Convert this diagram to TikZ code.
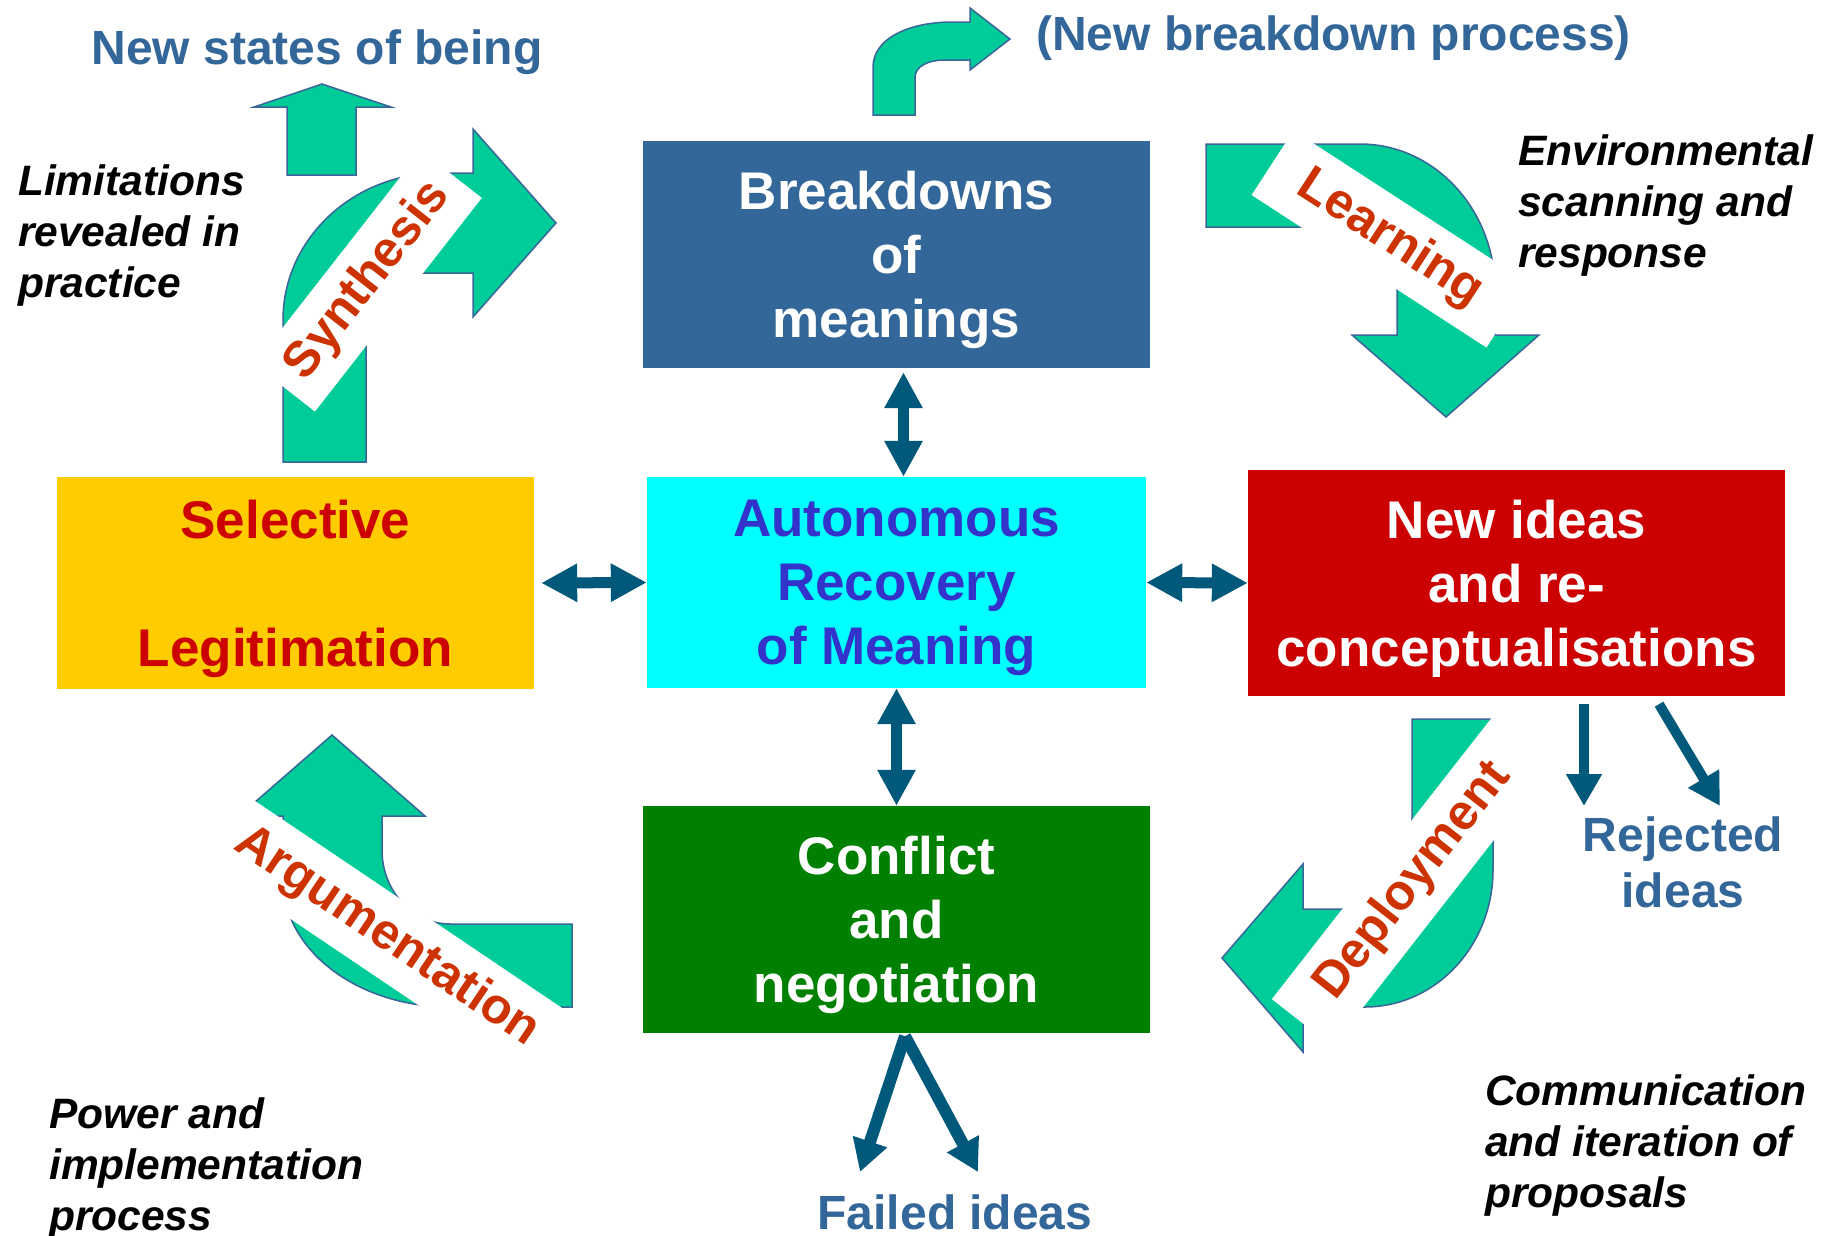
\documentclass[tikz,border=0pt]{standalone}
\usepackage{fontspec}
\setmainfont{Liberation Sans}
\usetikzlibrary{arrows.meta, positioning, calc}
\definecolor{boxblue}{HTML}{336699}
\definecolor{seafoam}{HTML}{00CC99}
\definecolor{rimblue}{HTML}{3A6599}
\definecolor{inkteal}{HTML}{00587A}
\definecolor{rust}{HTML}{CC3300}
\definecolor{crimson}{HTML}{CC0000}
\definecolor{amber}{HTML}{FFCC00}
\definecolor{leaf}{HTML}{008000}
\definecolor{aqua}{HTML}{00FFFF}
\definecolor{violet}{HTML}{3333CC}
\newcommand{\boxfont}{\fontsize{53}{64}\selectfont\bfseries}
\newcommand{\bandfont}{\fontsize{50}{60}\selectfont\bfseries}
\newcommand{\notefont}{\fontsize{42.5}{51}\selectfont\bfseries\itshape}
\newcommand{\tagfont}{\fontsize{48}{56}\selectfont\bfseries}

\begin{document}
\begin{tikzpicture}[
    x=1pt, y=-1pt,
    panel/.style={inner sep=0pt, align=center, text depth=0pt, font=\boxfont},
    band/.style={fill=white, inner sep=0pt, minimum height=77pt, text=rust, font=\bandfont},
    blob/.style={fill=seafoam, draw=rimblue, line width=1.5pt},
    dbl/.style={draw=inkteal, line width=11pt, {Triangle[length=36pt,width=36pt]}-{Triangle[length=36pt,width=36pt]}},
    spill/.style={draw=inkteal, line width=10pt, -{Triangle[length=32pt,width=34pt]}},
    note/.style={font=\notefont, align=left, anchor=north west, inner sep=0pt},
    tag/.style={font=\tagfont, text=boxblue, align=center, inner sep=0pt}
]
\useasboundingbox (0,0) rectangle (1832,1235);
% Bent arrow and up arrow
\draw[blob] (873,115) -- (873,67) .. controls (873,38) and (910,22) .. (952,22) -- (970,22) -- (970,8)
    -- (1010,39) -- (970,70) -- (970,60) -- (946,60) .. controls (928,60) and (915,66) .. (915,78) -- (915,115) -- cycle;
\draw[blob] (287,175) -- (287,107) -- (254,107) -- (322,84) -- (391,107) -- (356,107) -- (356,175) -- cycle;
% Synthesis
\draw[blob] (283,462) -- (283,320) .. controls (283,239) and (353,173) .. (440,173) -- (473,173) -- (473,129)
    -- (556,223) -- (473,317) -- (473,273) -- (420,273) .. controls (390,273) and (366,300) .. (366,340) -- (366,462) -- cycle;
\node[band, minimum width=271pt, rotate=52] (syn) at (368,281) {Synthesis};
% Learning
\draw[blob] (1206,144) -- (1360,144) .. controls (1434.5,144) and (1495,209.4) .. (1495,290) -- (1495,335) -- (1539,335)
    -- (1446,417) -- (1352,335) -- (1397,335) -- (1397,290) .. controls (1397,250) and (1340,227) .. (1300,227) -- (1206,227) -- cycle;
\node[band, minimum width=280pt, rotate=-33] (lrn) at (1390,239) {Learning};
% Deployment
\draw[blob] (1412,719) -- (1493,719) -- (1493,870) .. controls (1493,945.6) and (1435.7,1007) .. (1365,1007) -- (1303,1007)
    -- (1303,1052) -- (1222,958) -- (1303,864) -- (1303,909) -- (1342,909) .. controls (1380.6,909) and (1412,868.2) .. (1412,818) -- cycle;
\node[band, minimum width=360pt, rotate=52] (dep) at (1413,881) {Deployment};
% Argumentation
\draw[blob] (332,735) -- (425,816) -- (382,816) -- (382,850) .. controls (382,890.8) and (412.5,924) .. (450,924) -- (572,924)
    -- (572,1007) -- (450,1007) .. controls (357.8,1007) and (283,950.1) .. (283,880) -- (283,816) -- (239,816) -- cycle;
\node[band, minimum width=400pt, minimum height=78pt, rotate=-34] (arg) at (387,937) {Argumentation};
% Boxes
\node[panel, fill=boxblue, text=white, minimum width=507pt, minimum height=227pt] (brk) at (896.5,254.5) {Breakdowns\\of\\meanings};
\node[panel, fill=aqua, text=violet, minimum width=499pt, minimum height=211pt] (arm) at (896.5,582.5) {Autonomous\\Recovery\\of Meaning};
\node[panel, fill=amber, text=crimson, minimum width=477pt, minimum height=212pt] (sel) at (295.5,583) {Selective\\[64pt]Legitimation};
\node[panel, fill=crimson, text=white, minimum width=537pt, minimum height=226pt] (new) at (1516.5,583) {New ideas\\and re-\\conceptualisations};
\node[panel, fill=leaf, text=white, minimum width=507pt, minimum height=227pt] (con) at (896.5,919.5) {Conflict\\and\\negotiation};
% Double arrows
\draw[dbl, shorten <=4pt] ([xshift=7pt]brk.south) -- ([xshift=7pt]arm.north);
\draw[dbl] (arm.south) -- (con.north);
\draw[dbl, shorten <=7pt] (sel.east) -- (arm.west);
\draw[dbl] (arm.east) -- (new.west);
% Rejected and failed ideas
\coordinate (rej1) at (1584,806);
\coordinate (rej2) at (1720,806);
\draw[spill] ([xshift=67.5pt,yshift=-8pt]new.south) -- (rej1);
\draw[spill] ([xshift=142.5pt,yshift=-8pt]new.south) -- (rej2);
\coordinate (fail1) at (860,1172);
\coordinate (fail2) at (978,1172);
\draw[spill, line width=12pt] ([xshift=8.5pt,yshift=-3pt]con.south) -- (fail1);
\draw[spill, line width=12pt] ([xshift=8.5pt,yshift=-3pt]con.south) -- (fail2);
% Labels
\node[tag] (nsb) at (317,52) {New states of being};
\node[tag] (nbp) at (1333.5,38) {(New breakdown process)};
\node[tag, anchor=north] (rej) at (1683,817) {Rejected\\ideas};
\node[tag, anchor=north] (fail) at (955,1195) {Failed ideas};
\node[note] (lim) at (18,164) {Limitations\\revealed in\\practice};
\node[note] (env) at (1518,134) {Environmental\\scanning and\\response};
\node[note] (pow) at (49,1097) {Power and\\implementation\\process};
\node[note] (com) at (1485,1074) {Communication\\and iteration of\\proposals};
\end{tikzpicture}
\end{document}
